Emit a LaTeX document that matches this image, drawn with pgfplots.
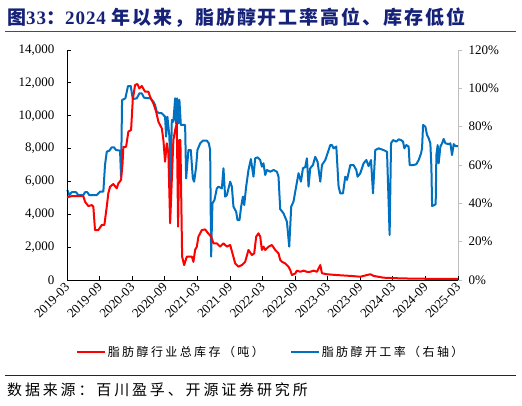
\documentclass[border=0pt]{standalone}
\usepackage{fontspec}
\usepackage{pgfplots}
\pgfplotsset{compat=1.18}
\usepackage{pgfplotstable}
\setmainfont{Liberation Serif}
\newfontfamily\cjk{Noto Sans CJK SC}
\newfontfamily\cjkleg{Noto Sans CJK SC}[LetterSpace=20]
\newfontfamily\cjksrc{Noto Sans CJK SC}[LetterSpace=19]
\newfontfamily\cjktitle{Noto Sans CJK SC}[LetterSpace=10]
\newfontfamily\serift{Liberation Serif}[LetterSpace=5]
\definecolor{myred}{RGB}{255,0,0}
\definecolor{myblue}{RGB}{0,112,192}
\definecolor{titleblue}{RGB}{22,34,120}

\pgfplotstableread{
m v
0 5030
0.92 5110
2.40 5110
3.00 5110
3.32 4770
3.93 4500
4.55 4560
4.85 4460
5.16 3040
5.77 3040
6.40 3350
6.88 3350
7.32 4460
7.61 5280
7.93 5680
8.53 5840
9.16 5580
9.46 5880
9.95 6090
10.23 7100
10.38 8110
10.88 8110
11.30 9030
11.80 9130
12.11 10960
12.53 11870
12.96 11930
13.33 11660
13.77 11810
14.38 11460
14.99 11460
15.30 11160
15.91 10750
16.41 10250
16.83 9640
17.46 9230
17.75 8520
18.06 7200
18.38 8320
18.67 7700
18.99 3450
19.30 6090
19.59 8520
19.91 9130
20.22 9540
20.46 3250
20.70 8520
20.88 8520
21.20 1420
21.57 910
22.06 1420
22.99 1420
23.28 1110
23.59 1830
23.91 2030
24.20 2640
24.83 3040
25.44 3080
25.99 2840
26.54 2640
26.97 2230
27.59 2230
28.20 2030
28.81 2230
29.44 2030
30.05 2130
30.47 1620
30.97 1010
31.58 810
32.20 910
32.81 1110
33.42 1830
34.05 1520
34.47 1620
34.84 2640
35.26 2840
35.58 2640
35.89 1830
36.18 2030
36.50 1830
37.11 2030
37.73 2130
38.34 1830
38.95 1620
39.26 1220
39.58 1110
40.18 1010
40.79 810
41.11 610
41.42 300
42.03 400
42.34 570
42.95 500
43.56 570
44.18 500
44.79 500
45.40 570
46.03 500
46.64 910
46.95 410
47.87 350
49.71 300
52.17 250
54.01 200
55.85 350
56.46 250
58.30 140
61.38 100
64.46 80
68.15 70
72 70
}\redtab

\pgfplotstableread{
m r
0.06 47.0
0.42 44.3
0.87 45.8
1.66 45.8
2.08 44.3
3.00 44.3
3.32 45.8
3.74 45.8
4.11 44.3
5.47 44.3
6.08 46.1
6.69 46.1
7.00 60.0
7.32 66.9
7.80 67.5
8.24 69.2
8.66 69.2
9.03 67.8
9.77 67.5
9.95 53.9
10.14 93.9
10.75 94.8
11.00 98.2
11.24 101.2
11.74 101.2
12.11 94.4
12.85 94.8
13.33 97.4
13.77 97.4
14.19 95.1
15.30 94.8
15.91 93.0
16.22 91.3
16.53 87.8
17.01 87.0
17.46 87.0
17.75 86.1
18.06 85.2
18.25 74.8
18.49 85.2
18.86 74.8
19.04 45.2
19.30 83.5
19.59 82.6
19.91 94.8
20.09 81.7
20.28 94.8
20.52 81.7
20.70 94.0
20.96 80.9
21.75 80.9
21.94 53.0
22.36 67.8
22.80 67.8
23.17 53.0
23.41 51.3
23.78 59.1
24.02 67.8
24.52 71.3
25.01 72.7
25.75 72.7
26.12 71.3
26.36 67.8
26.54 12.2
26.78 40.0
27.15 41.7
27.59 47.8
27.89 48.7
28.52 47.8
28.81 58.3
29.12 43.5
29.44 44.3
30.05 51.3
30.36 48.7
30.65 38.3
31.15 35.6
31.39 31.3
31.76 31.3
32.07 38.3
32.39 43.5
32.63 39.1
32.99 48.7
33.42 57.4
33.86 63.1
34.34 53.9
34.65 63.5
35.08 64.0
35.58 62.6
35.89 59.1
36.18 60.9
36.50 54.8
36.81 57.4
37.42 56.5
38.03 57.4
38.65 56.5
38.95 53.9
39.26 37.0
39.87 34.8
40.50 30.4
40.92 17.4
41.29 38.3
41.71 40.9
42.03 46.1
42.64 55.7
43.08 51.3
43.45 58.3
43.87 58.9
44.18 63.5
44.48 48.7
44.79 58.3
45.29 60.0
45.71 64.3
46.14 61.7
46.64 51.3
46.95 60.0
47.56 62.6
47.98 66.1
48.48 70.4
48.79 70.4
49.09 68.7
49.59 69.6
50.01 48.7
50.32 45.2
50.82 45.2
51.24 53.9
51.56 52.2
52.17 60.0
52.77 60.0
53.27 57.4
53.51 53.9
54.01 55.7
54.62 60.9
55.12 62.6
55.54 59.4
55.98 62.6
56.35 45.2
56.77 67.8
57.38 68.7
58.30 67.8
58.93 66.9
59.41 23.5
59.67 71.3
60.04 73.0
60.65 72.2
61.07 73.4
61.51 73.0
61.88 72.2
62.12 68.7
62.49 70.4
62.91 69.6
63.10 60.0
63.83 60.0
64.33 60.4
64.76 62.6
65.20 66.1
65.38 68.7
65.57 80.9
65.99 80.0
66.30 75.7
66.60 74.0
66.91 71.3
67.10 59.1
67.23 38.6
67.65 39.1
67.89 39.6
68.02 65.2
68.26 70.4
68.44 60.9
68.76 69.6
69.07 71.3
69.36 73.6
69.68 71.3
70.29 70.9
70.60 71.3
70.90 65.2
71.21 70.9
71.52 69.9
72.00 69.9
}\bluetab

\begin{document}
\begin{tikzpicture}
\useasboundingbox (0,0) rectangle (522pt,405pt);
\fill[white] (0,0) rectangle (522pt,405pt);
% title
\node[anchor=west, inner sep=0pt, text=titleblue] at (7pt,387pt)
  {\fontsize{19}{19}\selectfont\bfseries\cjktitle 图\serift 33\cjktitle ：\serift 2024 \cjktitle 年以来，脂肪醇开工率高位、库存低位};
\draw[line width=1.2pt, black!70] (5pt,373.3pt) -- (516pt,373.3pt);
\draw[line width=1pt, black!85] (5pt,30pt) -- (516pt,30pt);
\node[anchor=west, inner sep=0pt] at (7pt,15pt)
  {\fontsize{15}{15}\selectfont\cjksrc 数据来源：百川盈孚、开源证券研究所};

% right axis (blue)
\begin{axis}[
  at={(67pt,125pt)}, anchor=south west,
  width=391pt, height=230pt, scale only axis,
  xmin=0, xmax=72, ymin=0, ymax=120,
  axis x line=none,
  axis y line*=right,
  y axis line style={draw=black!25, line width=0.8pt},
  ytick={0,20,...,120},
  yticklabel={\pgfmathprintnumber{\tick}\%},
  ytick style={draw=black!25, line width=0.8pt},
  tick align=outside,
  major tick length=4pt,
  yticklabel style={font=\fontsize{13}{13}\selectfont, xshift=3pt},
  /pgf/number format/assume math mode=true,
  clip=false,
]
\addplot[myblue, line width=2pt, line join=round] table[x=m, y=r] {\bluetab};
\end{axis}

% left axis (red)
\begin{axis}[
  at={(67pt,125pt)}, anchor=south west,
  width=391pt, height=230pt, scale only axis,
  xmin=0, xmax=72, ymin=0, ymax=14000,
  axis x line*=bottom,
  axis y line*=left,
  axis line style={line width=0.8pt, black},
  tick style={black, line width=0.8pt},
  tick align=inside,
  major tick length=4pt,
  xtick={0,6,...,72},
  xticklabels={2019-03,2019-09,2020-03,2020-09,2021-03,2021-09,2022-03,2022-09,2023-03,2023-09,2024-03,2024-09,2025-03},
  xticklabel style={font=\fontsize{13}{13}\selectfont, rotate=45, anchor=east, yshift=-4pt},
  ytick={0,2000,...,14000},
  scaled y ticks=false,
  yticklabel style={font=\fontsize{13}{13}\selectfont, xshift=-9pt, /pgf/number format/1000 sep={,}},
  /pgf/number format/assume math mode=true,
  legend columns=2,
  legend style={at={(rel axis cs:0.022,-0.313)}, anchor=west, draw=none, fill=none,
    inner sep=0pt, font=\fontsize{12}{12}\selectfont\cjkleg,
    /tikz/every even column/.append style={column sep=24pt}},
  legend image code/.code={\draw[#1] (0pt,0pt) -- (28pt,0pt);},
  clip=false,
]
\addplot[myred, line width=2pt, line join=round] table[x=m, y=v] {\redtab};
\addlegendentry{脂肪醇行业总库存（吨）}
\addlegendimage{myblue, line width=2pt}
\addlegendentry{脂肪醇开工率（右轴）}
\end{axis}
\end{tikzpicture}
\end{document}
